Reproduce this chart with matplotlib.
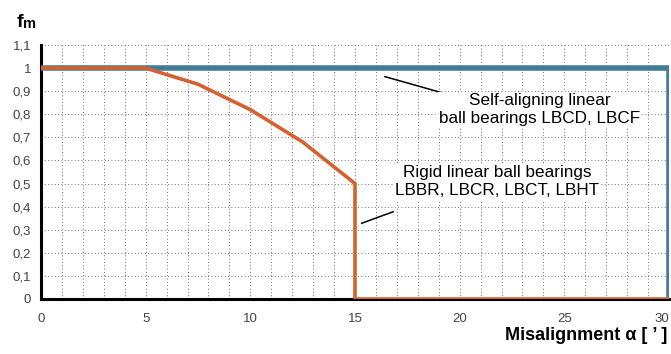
import matplotlib.pyplot as plt
import numpy as np

plt.rcParams['font.family'] = ['Liberation Sans', 'DejaVu Sans']

# 資料
rigid_x = [0, 5, 7.5, 10, 12.5, 15, 15, 30]
rigid_y = [1, 1, 0.93, 0.82, 0.68, 0.5, 0, 0]
self_x = [0, 30, 30]
self_y = [1, 1, 0]
x_ticks = [0, 5, 10, 15, 20, 25, 30]
y_ticks = [0, 0.1, 0.2, 0.3, 0.4, 0.5, 0.6, 0.7, 0.8, 0.9, 1, 1.1]
y_labels = ["0", "0,1", "0,2", "0,3", "0,4", "0,5", "0,6", "0,7", "0,8", "0,9", "1", "1,1"]

fig = plt.figure(figsize=(6.71, 3.54), dpi=100)
ax = fig.add_axes([0.0611, 0.1554, 0.9359, 0.7175])

# 點狀格線
for xv in range(1, 30):
    ax.axvline(xv, color="#444444", lw=0.6, ls=(0, (1, 3)), zorder=0)
for yv in y_ticks[1:]:
    ax.axhline(yv, color="#444444", lw=0.6, ls=(0, (1, 3)), zorder=0)

ax.plot(self_x, self_y, color="#437C97", lw=4, solid_joinstyle="miter", zorder=3)
ax.plot(rigid_x, rigid_y, color="#D5612F", lw=2.6, solid_joinstyle="miter", zorder=4)

ax.set_xlim(0, 30)
ax.set_ylim(0, 1.1)
ax.set_xticks(x_ticks)
ax.set_yticks(y_ticks)
ax.set_yticklabels(y_labels)
ax.tick_params(length=0, labelsize=9.5, labelcolor="#444444")
ax.tick_params(axis="y", pad=7)
ax.tick_params(axis="x", pad=10)
ax.get_xticklabels()[-1].set_horizontalalignment("right")
for s in ["top", "right"]:
    ax.spines[s].set_visible(False)
for s in ["left", "bottom"]:
    ax.spines[s].set_linewidth(2.2)
    ax.spines[s].set_zorder(2)

# 標註
ax.plot([16.43, 20.1], [0.963, 0.869], color="black", lw=1.1, zorder=5)
ax.text(23.84, 0.821, "Self-aligning linear\nball bearings LBCD, LBCF", ha="center", va="center",
        fontsize=12.3, linespacing=1.25, multialignment="center",
        bbox=dict(facecolor="white", edgecolor="none", pad=1), zorder=5)
ax.plot([15.32, 16.83], [0.328, 0.378], color="black", lw=1.1, zorder=5)
ax.text(21.79, 0.508, "Rigid linear ball bearings\nLBBR, LBCR, LBCT, LBHT", ha="center", va="center",
        fontsize=12.3, linespacing=1.25, multialignment="center",
        bbox=dict(facecolor="white", edgecolor="none", pad=1), zorder=5)

# 軸標題
fig.text(17 / 671, 1 - 27 / 354, "f", fontsize=14, fontweight="bold", ha="left", va="baseline")
fig.text(22.5 / 671, 1 - 28 / 354, "m", fontsize=10.5, fontweight="bold", ha="left", va="baseline")
fig.text(667 / 671, 1 - 335 / 354, "Misalignment α [ ’ ]", fontsize=13, fontweight="bold",
         ha="right", va="center")

plt.savefig("out.png", dpi=100)
